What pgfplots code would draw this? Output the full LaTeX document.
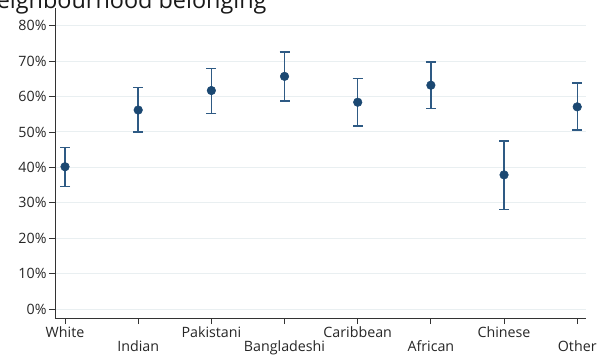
\documentclass[border=0pt]{standalone}
\usepackage{pgfplots}
\pgfplotsset{compat=1.18}
\usepackage{pgfplotstable}
\usepackage{fontspec}
\setmainfont{Open Sans}
\definecolor{pt}{HTML}{1B4872}
\definecolor{eb}{HTML}{2E5A84}
\definecolor{gridc}{HTML}{E9EFF1}
\definecolor{axc}{HTML}{333333}
\newcommand{\low}[1]{\raisebox{-14bp}[\height][\depth]{#1}}
\pgfplotstableread{
x y ep em
0 40.2 5.5 5.5
1 56.2 6.3 6.2
2 61.7 6.3 6.4
3 65.7 6.9 6.9
4 58.4 6.7 6.7
5 63.2 6.5 6.5
6 37.9 9.6 9.7
7 57.1 6.7 6.5
}\datatable
\begin{document}
\begin{tikzpicture}[x=1bp,y=1bp]
\begin{axis}[
  at={(0,0)}, anchor=south west,
  scale only axis, width=531bp, height=310bp,
  xmin=-0.137, xmax=7.12, ymin=-2.5, ymax=85,
  axis x line*=bottom, axis y line*=left,
  axis line style={axc, line width=0.8bp},
  xtick={0,...,7},
  xticklabels={White,\low{Indian},Pakistani,\low{Bangladeshi},Caribbean,\low{African},Chinese,\low{Other}},
  ytick={0,10,...,80},
  yticklabel={\pgfmathprintnumber{\tick}\%},
  /pgf/number format/assume math mode=true,
  tick style={axc, line width=0.8bp},
  tick align=outside, major tick length=6bp,
  ymajorgrids, grid style={gridc, line width=1bp},
  ticklabel style={font=\fontsize{14.3}{16}\selectfont, text=black!85},
  yticklabel style={xshift=1bp},
  xticklabel style={yshift=1bp},
  clip=false,
]
\addplot[only marks, color=eb, line width=1.4bp, mark=*, mark size=4.3bp,
  mark options={fill=pt, draw=pt, line width=0.5bp},
  error bars/.cd, y dir=both, y explicit,
  error bar style={eb, line width=1.4bp},
  error mark options={rotate=90, mark size=5bp, eb, line width=1.4bp}]
  table[x=x, y=y, y error plus=ep, y error minus=em] {\datatable};
\end{axis}
\node[anchor=base west, font=\fontsize{23.5}{27}\selectfont, text=black!90, inner sep=0pt] at (-76bp,309bp) {Neighbourhood belonging};
\pgfresetboundingbox
\path[use as bounding box] (-55bp,-38bp) rectangle (545bp,318bp);
\end{tikzpicture}
\end{document}
